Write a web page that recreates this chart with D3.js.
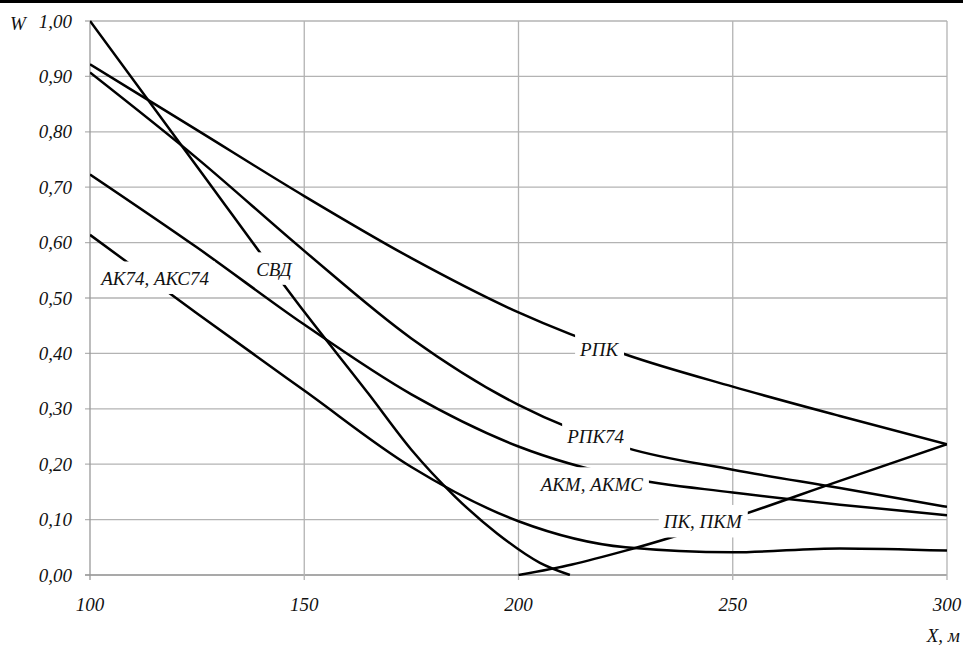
<!DOCTYPE html>
<html>
<head>
<meta charset="utf-8">
<script src="https://cdn.jsdelivr.net/npm/d3@7"></script>
</head>
<body style="margin:0; background:#fff">
<script>
// values
const xTicks = [100, 150, 200, 250, 300];
const yTicks = [0, 0.1, 0.2, 0.3, 0.4, 0.5, 0.6, 0.7, 0.8, 0.9, 1.0];
const xStep = [100, 125, 150, 175, 200, 225, 250, 275, 300];

const rpkW   = [0.922, 0.803, 0.684, 0.572, 0.474, 0.398, 0.340, 0.287, 0.236];
const rpk74W = [0.907, 0.752, 0.585, 0.427, 0.307, 0.230, 0.190, 0.157, 0.123];
const akmW   = [0.723, 0.591, 0.452, 0.326, 0.232, 0.176, 0.149, 0.127, 0.108];
const ak74W  = [0.614, 0.472, 0.333, 0.195, 0.097, 0.050, 0.041, 0.048, 0.044];

const svdX = [100, 125, 150, 165, 175, 185, 195, 205, 212];
const svdW = [1.00, 0.737, 0.475, 0.327, 0.226, 0.143, 0.075, 0.022, 0.0];

const pkX = [200, 212.5, 225, 250, 275, 300];
const pkW = [0.0, 0.019, 0.044, 0.103, 0.170, 0.236];

// label anchors (x value, W value at text baseline)
const labelText = ["АК74, АКС74", "СВД", "РПК", "РПК74", "АКМ, АКМС", "ПК, ПКМ"];
const labelX = [115.2, 142.9, 218.8, 218.0, 217.1, 243.0];
const labelW = [0.5235, 0.540, 0.395, 0.238, 0.152, 0.084];

const width = 963, height = 646;
const font = "Liberation Serif";

const svg = d3.select("body").append("svg")
    .attr("width", width)
    .attr("height", height);

const x = d3.scaleLinear().domain([100, 300]).range([90, 947]);
const y = d3.scaleLinear().domain([0, 1]).range([575, 21]);

function txt(sel) {
    return sel.attr("font-family", font)
        .attr("font-style", "italic")
        .attr("font-size", 19)
        .attr("fill", "#111");
}

// black band on top
svg.append("rect").attr("x", 0).attr("y", 0).attr("width", width).attr("height", 3).attr("fill", "#000");

// grid
svg.append("g").selectAll("line").data(yTicks).enter().append("line")
    .attr("x1", 85).attr("x2", x(300))
    .attr("y1", d => y(d)).attr("y2", d => y(d))
    .attr("stroke", d => d === 0 ? "#8c8c8c" : "#b3b3b3")
    .attr("stroke-width", 1.3);

svg.append("g").selectAll("line").data(xTicks).enter().append("line")
    .attr("x1", d => x(d)).attr("x2", d => x(d))
    .attr("y1", y(1)).attr("y2", 580)
    .attr("stroke", d => d === 100 ? "#999" : "#b3b3b3")
    .attr("stroke-width", 1.3);

// tick labels
svg.append("g").selectAll("text").data(yTicks).enter().append("text")
    .call(txt)
    .attr("x", 72).attr("y", d => y(d) + 6.5)
    .attr("text-anchor", "end")
    .text(d => d3.format(".2f")(d).replace(".", ","));

svg.append("g").selectAll("text").data(xTicks).enter().append("text")
    .call(txt)
    .attr("x", d => x(d)).attr("y", 611)
    .attr("text-anchor", "middle")
    .text(d => d);

svg.append("text").call(txt).attr("x", 10).attr("y", 30).text("W");
svg.append("text").call(txt).attr("x", 960).attr("y", 642).attr("text-anchor", "end").text("X, м");

// curves
svg.append("clipPath").attr("id", "plot").append("rect")
    .attr("x", x(100)).attr("y", y(1) - 3).attr("width", x(300) - x(100)).attr("height", y(0) - y(1) + 4);

const series = [
    xStep.map((v, i) => [v, rpkW[i]]),
    xStep.map((v, i) => [v, rpk74W[i]]),
    xStep.map((v, i) => [v, akmW[i]]),
    xStep.map((v, i) => [v, ak74W[i]]),
    svdX.map((v, i) => [v, svdW[i]]),
    pkX.map((v, i) => [v, pkW[i]])
];

const line = d3.line()
    .x(d => x(d[0]))
    .y(d => y(d[1]))
    .curve(d3.curveMonotoneX);

svg.append("g").attr("clip-path", "url(#plot)")
    .selectAll("path").data(series).enter().append("path")
    .attr("d", line)
    .attr("fill", "none")
    .attr("stroke", "#000")
    .attr("stroke-width", 2.5);

// labels with white boxes
const labels = svg.append("g").selectAll("g").data(labelText).enter().append("g");
labels.each(function(d, i) {
    const g = d3.select(this);
    const cx = x(labelX[i]), by = y(labelW[i]);
    const box = g.append("rect").attr("fill", "#fff");
    const t = g.append("text").call(txt)
        .attr("x", cx).attr("y", by)
        .attr("text-anchor", "middle")
        .text(d);
    const w = t.node().getComputedTextLength();
    box.attr("x", cx - w / 2 - 5).attr("y", by - 23.5)
        .attr("width", w + 11).attr("height", 32.5);
});
</script>
</body>
</html>
